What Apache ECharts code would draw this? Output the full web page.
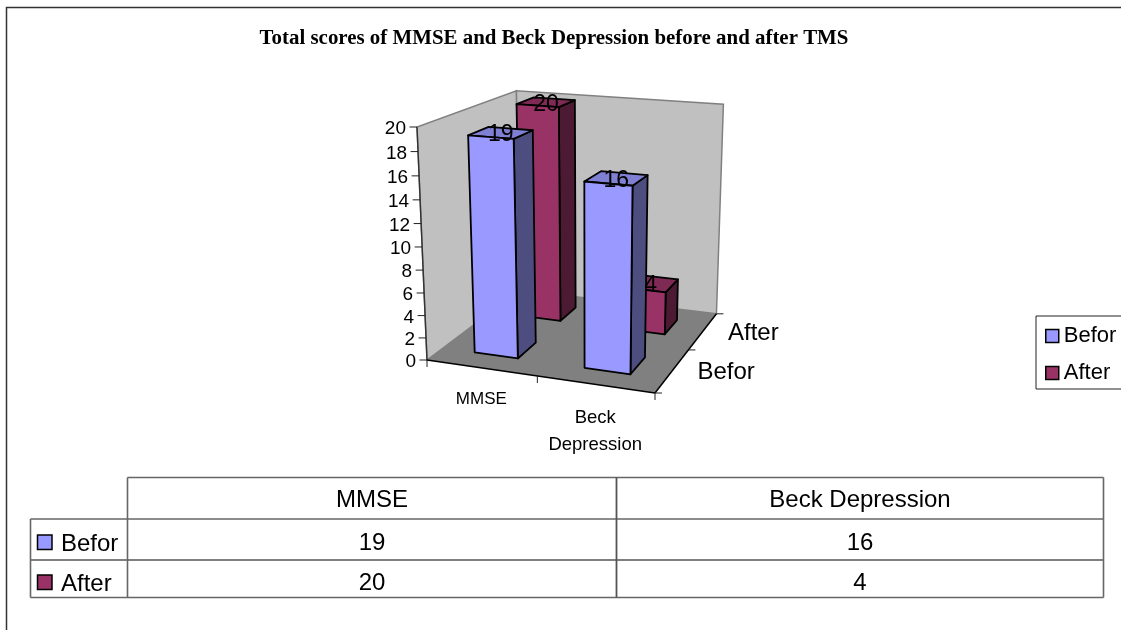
<!DOCTYPE html>
<html>
<head>
<meta charset="utf-8">
<title>Total scores of MMSE and Beck Depression before and after TMS</title>
<script src="https://cdn.jsdelivr.net/npm/echarts@6/dist/echarts.min.js"></script>
<style>
    html, body { margin: 0; padding: 0; background: #fff; overflow: hidden; }
    #myChart { width: 1121px; height: 630px; }
</style>
</head>
<body>
<div id="myChart"></div>
<script>
    // data
    var chartTitle = 'Total scores of MMSE and Beck Depression before and after TMS';
    var categories = ['MMSE', 'Beck Depression'];
    var seriesNames = ['Befor', 'After'];
    var beforValues = [19, 16];
    var afterValues = [20, 4];
    var yTicks = [0, 2, 4, 6, 8, 10, 12, 14, 16, 18, 20];

    var SANS = '"Liberation Sans", Arial, sans-serif';
    var SERIF = '"Liberation Serif", "Times New Roman", serif';

    var BEFOR_COLORS = { front: '#9999FF', side: '#4D4D80', top: '#7F7FD4' };
    var AFTER_COLORS = { front: '#993366', side: '#4D1A33', top: '#7F2A55' };

    // hidden grid, only used for the axis scales. its pixels are then put through the 3d view below
    var grid = { left: 427, top: 127, width: 228, height: 233 };
    var yMax = 20;
    var gapWidth = 1.5; // excel style gap, 150%

    // excel's 3d view: corners of the box, and perspective weights for x / y / depth
    var VIEW = {
        origin: [427, 360],
        xEnd: [655, 393],
        yEnd: [417, 127],
        zEnd: [520, 290],
        wx: -0.062,
        wy: -0.058,
        wz: 0.18
    };

    // x, y, z all go 0..1 inside the box. z = 0 is the front
    function project(x, y, z) {
        var w = 1 + VIEW.wx * x + VIEW.wy * y + VIEW.wz * z;
        var out = [];
        for (var i = 0; i < 2; i++) {
            var o = VIEW.origin[i];
            out.push((o
                + x * ((1 + VIEW.wx) * VIEW.xEnd[i] - o)
                + y * ((1 + VIEW.wy) * VIEW.yEnd[i] - o)
                + z * ((1 + VIEW.wz) * VIEW.zEnd[i] - o)) / w);
        }
        return out;
    }

    // axis scale -> 0..1 inside the hidden grid
    function toUnit(api, cat, val) {
        var p = api.coord([cat, val]);
        return [(p[0] - grid.left) / grid.width, (grid.top + grid.height - p[1]) / grid.height];
    }

    function face(points, fill) {
        return {
            type: 'polygon',
            shape: { points: points },
            style: { fill: fill, stroke: '#000', lineWidth: 1.8, lineJoin: 'round' }
        };
    }

    function line(a, b, color, width) {
        return {
            type: 'line',
            shape: { x1: a[0], y1: a[1], x2: b[0], y2: b[1] },
            style: { stroke: color, lineWidth: width }
        };
    }

    function label(text, x, y, size, align, vAlign, extra) {
        var style = {
            text: text, x: x, y: y, fill: '#000',
            fontFamily: SANS, fontSize: size,
            align: align, verticalAlign: vAlign
        };
        for (var k in extra) { style[k] = extra[k]; }
        return { type: 'text', style: style };
    }

    function barRenderer(depthIndex, colors) {
        return function (params, api) {
            var cat = api.value(0);
            var val = api.value(1);
            var u = toUnit(api, cat, val);
            var halfX = api.size([1, 0])[0] / grid.width / (1 + gapWidth) / 2;
            var depthBand = 1 / seriesNames.length;
            var halfZ = depthBand / (1 + gapWidth) / 2;
            var midZ = (depthIndex + 0.5) * depthBand;
            var x0 = u[0] - halfX, x1 = u[0] + halfX;
            var z0 = midZ - halfZ, z1 = midZ + halfZ;
            var top = u[1];
            var mid = project(u[0], top, midZ);
            return {
                type: 'group',
                children: [
                    face([project(x1, 0, z0), project(x1, 0, z1), project(x1, top, z1), project(x1, top, z0)], colors.side),
                    face([project(x0, top, z0), project(x1, top, z0), project(x1, top, z1), project(x0, top, z1)], colors.top),
                    face([project(x0, 0, z0), project(x1, 0, z0), project(x1, top, z0), project(x0, top, z0)], colors.front),
                    label(String(val), mid[0], mid[1] + 2, 23, 'center', 'middle')
                ]
            };
        };
    }

    // walls, floor, slanted axes
    function frameRenderer(params, api) {
        var kids = [];
        var wall = { fill: '#C0C0C0', stroke: '#808080', lineWidth: 1.5 };
        kids.push({ type: 'polygon', shape: { points: [project(0, 0, 0), project(0, 1, 0), project(0, 1, 1), project(0, 0, 1)] }, style: wall });
        kids.push({ type: 'polygon', shape: { points: [project(0, 0, 1), project(0, 1, 1), project(1, 1, 1), project(1, 0, 1)] }, style: wall });
        kids.push({ type: 'polygon', shape: { points: [project(0, 0, 0), project(1, 0, 0), project(1, 0, 1), project(0, 0, 1)] }, style: { fill: '#808080' } });

        kids.push(line(project(0, 0, 0), project(0, 1, 0), '#333', 1.4));
        kids.push(line(project(0, 0, 0), project(1, 0, 0), '#000', 1.5));
        kids.push(line(project(1, 0, 0), project(1, 0, 1), '#000', 1.5));

        yTicks.forEach(function (t) {
            var p = project(0, toUnit(api, 0, t)[1], 0);
            kids.push(line([p[0] - 7.5, p[1]], p, '#222', 1));
            kids.push(label(String(t), p[0] - 11, p[1] + 2, 19, 'right', 'middle'));
        });

        // ticks sit on the band edges, labels in the band middle
        var xEdges = [0, 0.5, 1];
        xEdges.forEach(function (e) {
            var p = project(e, 0, 0);
            kids.push(line(p, [p[0], p[1] + 7], '#222', 1));
        });
        categories.forEach(function (c, i) {
            var p = project(toUnit(api, i, 0)[0], 0, 0);
            kids.push(label(c.replace(' ', '\n'), p[0], p[1] + (i == 0 ? 18 : 20), i == 0 ? 17 : 18.5, 'center', 'top', { lineHeight: 27 }));
        });
        var zEdges = [0, 0.5, 1];
        zEdges.forEach(function (e) {
            var p = project(1, 0, e);
            kids.push(line(p, [p[0] + 7, p[1]], '#222', 1));
        });
        seriesNames.forEach(function (n, i) {
            var p = project(1, 0, (i + 0.5) / seriesNames.length);
            kids.push(label(n, p[0] + 25, p[1] + 2, 24, 'left', 'middle'));
        });
        return { type: 'group', children: kids };
    }

    // the data table under the plot
    function tableGraphics() {
        var left = 30.5, headLeft = 127.5, split = 616.5, right = 1103.5;
        var y0 = 477.5, y1 = 519, y2 = 560, y3 = 597.5;
        var gray = '#666';
        var els = [];
        function seg(x1, y1, x2, y2, color, width) {
            els.push({
                type: 'line', silent: true,
                shape: { x1: x1, y1: y1, x2: x2, y2: y2 },
                style: { stroke: color, lineWidth: width }
            });
        }
        function txt(text, x, y, align) {
            els.push({
                type: 'text', silent: true,
                style: { text: text, x: x, y: y, fill: '#000', fontFamily: SANS, fontSize: 24, align: align, verticalAlign: 'middle' }
            });
        }
        seg(headLeft, y0, right, y0, gray, 1.6);
        seg(left, y1, right, y1, gray, 1.6);
        seg(left, y2, right, y2, '#000', 1.2);
        seg(left, y3, right, y3, gray, 1.6);
        seg(left, y1, left, y3, gray, 1.6);
        seg(headLeft, y0, headLeft, y3, gray, 1.6);
        seg(split, y0, split, y3, '#555', 1.8);
        seg(right, y0, right, y3, gray, 1.6);

        var colMid = [(headLeft + split) / 2, (split + right) / 2];
        categories.forEach(function (c, i) { txt(c, colMid[i], 500, 'center'); });

        var rows = [
            { name: seriesNames[0], values: beforValues, color: BEFOR_COLORS.front, y: 543 },
            { name: seriesNames[1], values: afterValues, color: AFTER_COLORS.front, y: 583 }
        ];
        rows.forEach(function (r) {
            els.push({
                type: 'rect', silent: true,
                shape: { x: 37.5, y: r.y - 8, width: 14.5, height: 14.5 },
                style: { fill: r.color, stroke: '#000', lineWidth: 1.5 }
            });
            txt(r.name, 61, r.y + 1, 'left');
            r.values.forEach(function (v, i) { txt(String(v), colMid[i], r.y, 'center'); });
        });
        return els;
    }

    function toPairs(values) {
        return values.map(function (v, i) { return [i, v]; });
    }

    var options = {
        animation: false,
        backgroundColor: '#fff',
        title: {
            text: chartTitle,
            left: 554,
            top: 28,
            textAlign: 'center',
            padding: 0,
            textStyle: { fontFamily: SERIF, fontWeight: 'bold', fontSize: 20.9, color: '#000' }
        },
        legend: {
            data: seriesNames,
            orient: 'vertical',
            left: 1036,
            top: 316,
            padding: [9, 20, 5, 9],
            itemWidth: 13,
            itemHeight: 13,
            itemGap: 15,
            icon: 'rect',
            selectedMode: false,
            borderColor: '#222',
            borderWidth: 1,
            itemStyle: { borderColor: '#000', borderWidth: 1.5 },
            textStyle: { fontFamily: SANS, fontSize: 22, color: '#000' }
        },
        grid: { left: grid.left, top: grid.top, width: grid.width, height: grid.height },
        xAxis: { type: 'category', data: categories, show: false },
        yAxis: { type: 'value', min: 0, max: yMax, interval: 2, show: false },
        graphic: [{
            type: 'rect', silent: true,
            shape: { x: 6.5, y: 7.5, width: 1300, height: 800 },
            style: { fill: 'none', stroke: '#333', lineWidth: 1.5 }
        }].concat(tableGraphics()),
        series: [
            { name: 'frame', type: 'custom', z: 1, silent: true, data: [[0, 0]], renderItem: frameRenderer },
            {
                name: seriesNames[1], type: 'custom', z: 2, silent: true,
                itemStyle: { color: AFTER_COLORS.front },
                data: toPairs(afterValues), renderItem: barRenderer(1, AFTER_COLORS)
            },
            {
                name: seriesNames[0], type: 'custom', z: 3, silent: true,
                itemStyle: { color: BEFOR_COLORS.front },
                data: toPairs(beforValues), renderItem: barRenderer(0, BEFOR_COLORS)
            }
        ]
    };

    var myChart = echarts.init(document.getElementById('myChart'));
    myChart.setOption(options);
</script>
</body>
</html>
